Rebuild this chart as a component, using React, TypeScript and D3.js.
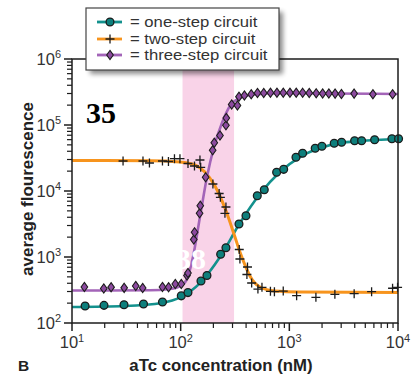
import { useMemo } from "react";
import * as d3 from "d3";

// aTc (nM) and fluorescence
const oneStepX = [13.2, 19.7, 30.1, 45.5, 68, 101.3, 116.7, 153.8, 174.6, 233.4, 261, 344, 399, 507, 588, 764, 887, 1151, 1325, 1730, 1994, 2588, 3026, 3987, 4625, 6093, 8790, 10120];
const oneStepY = [181, 185, 189, 194, 208, 258, 289, 432, 525, 1099, 1383, 3162, 4227, 8490, 10470, 19200, 21300, 32400, 37300, 44400, 47600, 52800, 54700, 57800, 57800, 59900, 61900, 61900];

const twoStepX = [29.5, 45, 51.6, 68, 77.2, 87.7, 98.5, 116.8, 134, 150.5, 152.8, 198, 226, 232, 261, 255.5, 346, 351, 412, 407, 450, 514, 560, 670, 729, 879, 1167, 1756, 2625, 3950, 5716, 8913, 9910];
const twoStepY = [28480, 28480, 26560, 28480, 28000, 30860, 30860, 26100, 23920, 29490, 22860, 12760, 9160, 8030, 5724, 4590, 1299, 933, 706, 543, 404, 327, 347, 302, 298, 305, 259, 245, 272, 278, 298, 336, 347];

const threeStepX = [13, 19.6, 22.9, 30.2, 38.6, 44.7, 68, 77.4, 89.2, 101.3, 114.3, 116.7, 132, 134.3, 149.3, 151.5, 169.8, 197, 203.8, 230, 261, 263, 294.6, 333, 343.9, 386, 446, 509, 581, 670, 769, 879, 1013, 1157, 1326, 1524, 1768, 2025, 2309, 2638, 3015, 3946, 5875, 8917];
const threeStepY = [351, 333, 349, 341, 364, 339, 351, 349, 390, 390, 524, 572, 1842, 2367, 4593, 5968, 16130, 41370, 53920, 69330, 98970, 127600, 204400, 197500, 268500, 279900, 291900, 305300, 305300, 308600, 308600, 308600, 308600, 308600, 307500, 305300, 302200, 300100, 300100, 299000, 294900, 299000, 291900, 291900];

// fitted curves
const oneFitX = [10, 30.7, 67.3, 100.7, 150.5, 230, 351, 536, 819, 1252, 1912, 2921, 4462, 10000];
const oneFitY = [175, 181, 201, 248, 403, 1000, 3273, 9016, 19400, 32700, 44800, 53400, 57300, 61400];
const twoFitX = [10, 52.2, 98.5, 135.4, 167.3, 206.8, 255.5, 315.9, 351, 390.5, 434, 536, 737, 1252, 10000];
const twoFitY = [28980, 28680, 27500, 24770, 19410, 11900, 5520, 2010, 1191, 757, 515, 351, 305, 295, 290];
const threeFitX = [10, 52.2, 79.7, 100.7, 114.3, 129.8, 150.5, 174.6, 202.5, 239.9, 284, 351, 482.6, 819, 10000];
const threeFitY = [310.7, 313, 327, 364, 464, 1000, 4036, 16300, 46400, 107200, 194100, 256500, 289800, 302200, 294900];

const bandRange = [104, 310];
const xTickExps = [1, 2, 3, 4];
const yTickExps = [2, 3, 4, 5, 6];
const legendLabels = ["= one-step circuit", "= two-step circuit", "= three-step circuit"];

const TEAL = "#13918d";
const TEAL_FILL = "#0d7f7c";
const ORANGE = "#f7941d";
const PURPLE = "#a364b8";
const PURPLE_FILL = "#8c4a9f";
const PINK = "#f9d3e8";
const INK = "#1c1c1c";
const SANS = "'Liberation Sans', Arial, Helvetica, sans-serif";
const SERIF = "'Liberation Serif', 'Times New Roman', serif";

export default function App() {
  const W = 417;
  const H = 376;
  const mg = { left: 72, right: 398, top: 59, bottom: 323 };

  const x = useMemo(() => d3.scaleLog().domain([10, 10000]).range([mg.left, mg.right]), []);
  const y = useMemo(() => d3.scaleLog().domain([100, 1e6]).range([mg.bottom, mg.top]), []);

  const line = d3
    .line<[number, number]>()
    .x((d) => x(d[0]))
    .y((d) => y(d[1]))
    .curve(d3.curveMonotoneX);

  const zip = (a: number[], b: number[]) => a.map((v, i) => [v, b[i]] as [number, number]);

  const xMinor: number[] = [];
  for (let e = 1; e < 4; e++) for (let m = 2; m <= 9; m++) xMinor.push(m * 10 ** e);
  const yMinor: number[] = [];
  for (let e = 2; e < 6; e++) for (let m = 2; m <= 9; m++) yMinor.push(m * 10 ** e);

  const diamond = (cx: number, cy: number, s = 1) =>
    `M${cx},${cy - 4.6 * s}L${cx + 3.3 * s},${cy}L${cx},${cy + 4.6 * s}L${cx - 3.3 * s},${cy}Z`;
  const plus = (cx: number, cy: number) => `M${cx - 4.5},${cy}H${cx + 4.5}M${cx},${cy - 4.5}V${cy + 4.5}`;

  const leg = { x: 86, y: 8, w: 193, h: 62 };
  const rowY = [22, 39, 55];

  return (
    <div style={{ position: "absolute", left: 0, top: 0 }}>
      <svg width={W} height={H} viewBox={`0 0 ${W} ${H}`} style={{ display: "block", background: "#fff" }}>
        <defs>
          <filter id="shadow" x="-10%" y="-20%" width="130%" height="160%">
            <feGaussianBlur stdDeviation="2.5" />
          </filter>
        </defs>

        {/* pink window */}
        <rect
          x={x(bandRange[0])}
          y={mg.top}
          width={x(bandRange[1]) - x(bandRange[0])}
          height={mg.bottom - mg.top}
          fill={PINK}
        />

        {/* fit lines */}
        <path d={line(zip(oneFitX, oneFitY)) ?? ""} fill="none" stroke={TEAL} strokeWidth={2.6} />
        <path d={line(zip(twoFitX, twoFitY)) ?? ""} fill="none" stroke={ORANGE} strokeWidth={3} />
        <path d={line(zip(threeFitX, threeFitY)) ?? ""} fill="none" stroke={PURPLE} strokeWidth={2.6} />

        {/* markers */}
        {twoStepX.map((v, i) => (
          <path key={`t${i}`} d={plus(x(v), y(twoStepY[i]))} stroke={INK} strokeWidth={1.3} fill="none" />
        ))}
        {threeStepX.map((v, i) => (
          <path key={`p${i}`} d={diamond(x(v), y(threeStepY[i]))} fill={PURPLE_FILL} stroke={INK} strokeWidth={1.1} />
        ))}
        {oneStepX.map((v, i) => (
          <circle key={`o${i}`} cx={x(v)} cy={y(oneStepY[i])} r={3.9} fill={TEAL_FILL} stroke={INK} strokeWidth={1.3} />
        ))}

        {/* frame + axes */}
        <rect x={mg.left} y={mg.top} width={mg.right - mg.left} height={mg.bottom - mg.top} fill="none" stroke={INK} strokeWidth={1.5} />
        {xMinor.map((v) => (
          <line key={`xm${v}`} x1={x(v)} x2={x(v)} y1={mg.bottom} y2={mg.bottom + 5} stroke={INK} strokeWidth={1.2} />
        ))}
        {xTickExps.map((e) => (
          <g key={`xt${e}`}>
            <line x1={x(10 ** e)} x2={x(10 ** e)} y1={mg.bottom} y2={mg.bottom + 8} stroke={INK} strokeWidth={1.5} />
            <text x={x(10 ** e)} y={348} textAnchor="middle" fontFamily={SANS} fontSize={16.5} fill="#333">
              10<tspan dy={-6.5} fontSize={11}>{e}</tspan>
            </text>
          </g>
        ))}
        {yMinor.map((v) => (
          <line key={`ym${v}`} x1={mg.left - 5} x2={mg.left} y1={y(v)} y2={y(v)} stroke={INK} strokeWidth={1.2} />
        ))}
        {yTickExps.map((e) => (
          <g key={`yt${e}`}>
            <line x1={mg.left - 8} x2={mg.left} y1={y(10 ** e)} y2={y(10 ** e)} stroke={INK} strokeWidth={1.5} />
            <text x={61} y={y(10 ** e) + 5.5} textAnchor="end" fontFamily={SANS} fontSize={16.5} fill="#333">
              10<tspan dy={-6.5} fontSize={11}>{e}</tspan>
            </text>
          </g>
        ))}

        {/* axis titles */}
        <text
          transform={`translate(33, 189) rotate(-90)`}
          textAnchor="middle"
          fontFamily={SANS}
          fontSize={17}
          fontWeight="bold"
          fill="#222"
        >
          average flourescence
        </text>
        <text x={221} y={371} textAnchor="middle" fontFamily={SANS} fontSize={16.8} fontWeight="bold" fill="#222">
          aTc concentration (nM)
        </text>
        <text x={18} y={371} fontFamily={SANS} fontSize={15.5} fontWeight="bold" fill="#222">
          B
        </text>

        {/* legend */}
        <rect x={leg.x + 4} y={leg.y + 4} width={leg.w} height={leg.h} fill="#000" opacity={0.45} filter="url(#shadow)" />
        <rect x={leg.x} y={leg.y} width={leg.w} height={leg.h} fill="#fff" stroke="#444" strokeWidth={1.2} />
        {legendLabels.map((label, i) => {
          const cy = rowY[i];
          const color = [TEAL, ORANGE, PURPLE][i];
          return (
            <g key={label}>
              <line x1={97} x2={122} y1={cy} y2={cy} stroke={color} strokeWidth={2.8} />
              {i === 0 && <circle cx={110} cy={cy} r={3.9} fill={TEAL_FILL} stroke={INK} strokeWidth={1.3} />}
              {i === 1 && <path d={plus(110, cy)} stroke={INK} strokeWidth={1.3} />}
              {i === 2 && <path d={diamond(110, cy)} fill={PURPLE_FILL} stroke={INK} strokeWidth={1.1} />}
              <text
                transform={`translate(130, ${cy + 5.2}) scale(1.15, 1)`}
                fontFamily={SANS}
                fontSize={14.5}
                fill="#333"
              >
                {label}
              </text>
            </g>
          );
        })}

        {/* overlaid numbers */}
        <text x={86} y={123} fontFamily={SERIF} fontSize={30} fontWeight="bold" fill="#000">
          35
        </text>
        <text x={176} y={269} fontFamily={SERIF} fontSize={30} fontWeight="bold" fill="#fff">
          38
        </text>
      </svg>
    </div>
  );
}
